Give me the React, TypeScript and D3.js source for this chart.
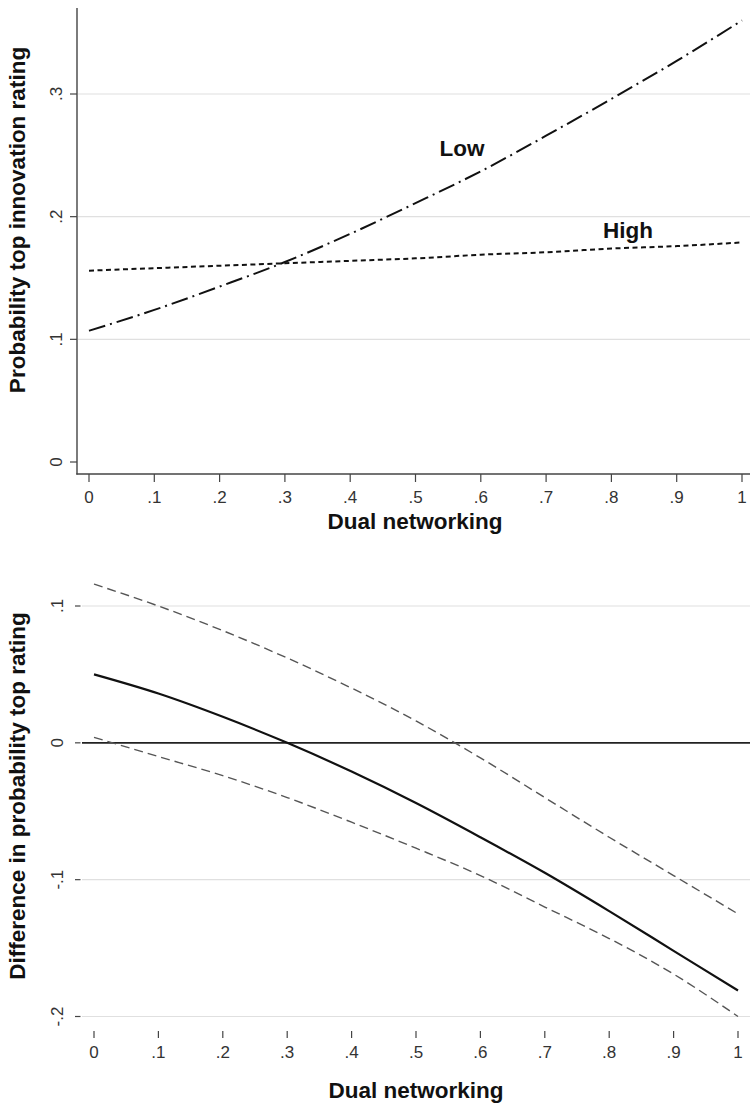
import React from "react";
import * as d3 from "d3";

// ---- Data ----
const dualNetworking = [0, 0.1, 0.2, 0.3, 0.4, 0.5, 0.6, 0.7, 0.8, 0.9, 1.0];
const lowProb = [0.107, 0.124, 0.143, 0.163, 0.186, 0.211, 0.237, 0.266, 0.296, 0.327, 0.36];
const highProb = [0.156, 0.158, 0.16, 0.162, 0.164, 0.166, 0.169, 0.171, 0.174, 0.176, 0.179];
const diffEst = [0.05, 0.036, 0.019, 0.0, -0.021, -0.044, -0.069, -0.095, -0.123, -0.152, -0.181];
const diffUpper = [0.116, 0.1, 0.082, 0.062, 0.04, 0.016, -0.011, -0.04, -0.069, -0.097, -0.125];
const diffLower = [0.004, -0.01, -0.024, -0.04, -0.058, -0.077, -0.097, -0.12, -0.143, -0.169, -0.2];

const xTicks = [0, 0.1, 0.2, 0.3, 0.4, 0.5, 0.6, 0.7, 0.8, 0.9, 1];
const topYTicks = [0, 0.1, 0.2, 0.3];
const topGrid = [0.1, 0.2, 0.3];
const bottomYTicks = [-0.2, -0.1, 0, 0.1];
const bottomGrid = [-0.2, -0.1, 0.1];

const seriesLabels = { low: "Low", high: "High" };
const titles = {
  topY: "Probability top innovation rating",
  bottomY: "Difference in probability top rating",
  x: "Dual networking",
};

const fmt = (v: number) => {
  const r = Math.round(v * 10) / 10;
  if (r === 0) return "0";
  if (r === 1) return "1";
  return String(r).replace("0.", ".");
};

const FONT = "Liberation Sans, Arial, sans-serif";

export default function App() {
  // Top panel scales
  const xT = d3.scaleLinear().domain([0, 1]).range([89, 742]);
  const yT = d3.scaleLinear().domain([0, 0.3]).range([462, 94]);
  // Bottom panel scales
  const xB = d3.scaleLinear().domain([0, 1]).range([94, 738]);
  const yB = d3.scaleLinear().domain([-0.2, 0.1]).range([1016.5, 606]);

  const lineT = (vals: number[]) =>
    d3
      .line<number>()
      .x((_, i) => xT(dualNetworking[i]))
      .y((d) => yT(d))
      .curve(d3.curveMonotoneX)(vals) || "";
  const lineB = (vals: number[]) =>
    d3
      .line<number>()
      .x((_, i) => xB(dualNetworking[i]))
      .y((d) => yB(d))
      .curve(d3.curveMonotoneX)(vals) || "";

  const axisColor = "#444";
  const gridColor = "#e0e0e0";
  const tickText = "#333";
  const tickSize = 17;
  const titleSize = 22.5;

  return (
    <svg
      width={751}
      height={1103}
      style={{ position: "absolute", left: 0, top: 0, background: "#fff" }}
      fontFamily={FONT}
    >
      <rect x={0} y={0} width={751} height={1103} fill="#fff" />

      {/* ===== Top panel ===== */}
      {topGrid.map((v) => (
        <line key={"tg" + v} x1={78} x2={750} y1={yT(v)} y2={yT(v)} stroke={gridColor} strokeWidth={1.2} />
      ))}
      <line x1={77} x2={77} y1={8} y2={474.5} stroke={axisColor} strokeWidth={1.4} />
      <line x1={76.3} x2={750} y1={474} y2={474} stroke={axisColor} strokeWidth={1.4} />
      {topYTicks.map((v) => (
        <g key={"ty" + v}>
          <line x1={70} x2={77} y1={yT(v)} y2={yT(v)} stroke={axisColor} strokeWidth={1.2} />
          <text
            transform={`translate(${62},${yT(v)}) rotate(-90)`}
            textAnchor="middle"
            fontSize={tickSize}
            fill={tickText}
          >
            {fmt(v)}
          </text>
        </g>
      ))}
      {xTicks.map((v) => (
        <g key={"tx" + v}>
          <line x1={xT(v)} x2={xT(v)} y1={474} y2={482} stroke={axisColor} strokeWidth={1.2} />
          <text x={xT(v)} y={503} textAnchor="middle" fontSize={tickSize} fill={tickText}>
            {fmt(v)}
          </text>
        </g>
      ))}
      <path d={lineT(lowProb)} fill="none" stroke="#111" strokeWidth={2} strokeDasharray="17 5 2 5" />
      <path d={lineT(highProb)} fill="none" stroke="#111" strokeWidth={2} strokeDasharray="5 3.5" />
      <text x={462} y={156} textAnchor="middle" fontSize={titleSize} fontWeight="bold" fill="#111">
        {seriesLabels.low}
      </text>
      <text x={628} y={238} textAnchor="middle" fontSize={titleSize} fontWeight="bold" fill="#111">
        {seriesLabels.high}
      </text>
      <text
        transform={`translate(${25},${220}) rotate(-90)`}
        textAnchor="middle"
        fontSize={titleSize}
        fontWeight="bold"
        fill="#111"
      >
        {titles.topY}
      </text>
      <text x={415} y={529} textAnchor="middle" fontSize={titleSize} fontWeight="bold" fill="#111">
        {titles.x}
      </text>

      {/* ===== Bottom panel ===== */}
      {bottomGrid.map((v) => (
        <line key={"bg" + v} x1={82} x2={750} y1={yB(v)} y2={yB(v)} stroke={gridColor} strokeWidth={1.2} />
      ))}
      <line x1={82} x2={750} y1={yB(0)} y2={yB(0)} stroke="#222" strokeWidth={1.6} />
      {bottomYTicks.map((v) => (
        <g key={"by" + v}>
          <line x1={75} x2={80.5} y1={yB(v)} y2={yB(v)} stroke={axisColor} strokeWidth={1.2} />
          <text
            transform={`translate(${63},${yB(v)}) rotate(-90)`}
            textAnchor="middle"
            fontSize={tickSize}
            fill={tickText}
          >
            {fmt(v)}
          </text>
        </g>
      ))}
      {xTicks.map((v) => (
        <g key={"bx" + v}>
          <line x1={xB(v)} x2={xB(v)} y1={1031} y2={1038} stroke={axisColor} strokeWidth={1.2} />
          <text x={xB(v)} y={1058} textAnchor="middle" fontSize={tickSize} fill={tickText}>
            {fmt(v)}
          </text>
        </g>
      ))}
      <path d={lineB(diffUpper)} fill="none" stroke="#555" strokeWidth={1.4} strokeDasharray="9 5" />
      <path d={lineB(diffLower)} fill="none" stroke="#555" strokeWidth={1.4} strokeDasharray="9 5" />
      <path d={lineB(diffEst)} fill="none" stroke="#111" strokeWidth={2.2} />
      <text
        transform={`translate(${25},${796}) rotate(-90)`}
        textAnchor="middle"
        fontSize={titleSize}
        fontWeight="bold"
        fill="#111"
      >
        {titles.bottomY}
      </text>
      <text x={416} y={1098} textAnchor="middle" fontSize={titleSize} fontWeight="bold" fill="#111">
        {titles.x}
      </text>
    </svg>
  );
}
